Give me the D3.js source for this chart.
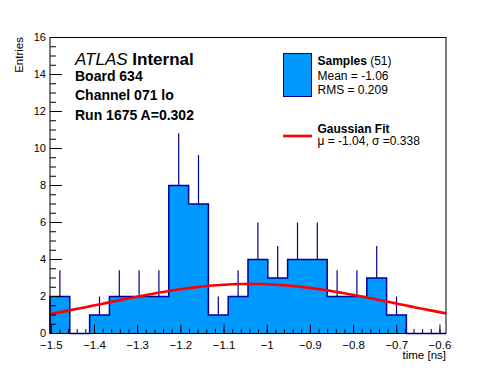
<!DOCTYPE html>
<html>
<head>
<meta charset="utf-8">
<script src="https://cdn.jsdelivr.net/npm/d3@7"></script>
<style>
  body { margin: 0; background: #fff; }
  svg { font-family: "Liberation Sans", Arial, sans-serif; }
</style>
</head>
<body>
<svg id="chart"></svg>
<script>
// histogram contents, 20 equal bins over the axis range
const binCounts = [2, 0, 1, 2, 2, 2, 8, 7, 1, 2, 4, 3, 4, 4, 2, 2, 3, 1, 0, 0];
const xRange = [-1.503, -0.586];
const yRange = [0, 16];
const xTickValues = [-1.5, -1.4, -1.3, -1.2, -1.1, -1, -0.9, -0.8, -0.7, -0.6];
const yTickValues = [0, 2, 4, 6, 8, 10, 12, 14, 16];

// gaussian fit parameters
const fitConst = 2.68;
const fitMean = -1.04;
const fitSigma = 0.338;

const infoLines = ["Board 634", "Channel 071 lo", "Run 1675 A=0.302"];

const W = 496, H = 372;
const margin = { top: 37.5, right: 50, bottom: 38.5, left: 50 };
const width = W - margin.left - margin.right;
const height = H - margin.top - margin.bottom;

const fillBlue = "#0099ff";
const lineBlue = "#000099";

const svg = d3.select("#chart").attr("width", W).attr("height", H);
const g = svg.append("g").attr("transform", `translate(${margin.left},${margin.top})`);

const x = d3.scaleLinear().domain(xRange).range([0, width]);
const y = d3.scaleLinear().domain(yRange).range([height, 0]);

const binW = (xRange[1] - xRange[0]) / binCounts.length;
const bins = binCounts.map((c, i) => ({ lo: xRange[0] + i * binW, hi: xRange[0] + (i + 1) * binW, c: c }));

// error bars (upper part, lower part hidden behind the fill)
g.selectAll(".err").data(bins.filter(d => d.c > 0)).enter().append("line")
    .attr("x1", d => x((d.lo + d.hi) / 2))
    .attr("x2", d => x((d.lo + d.hi) / 2))
    .attr("y1", d => y(d.c))
    .attr("y2", d => y(d.c + Math.sqrt(d.c)))
    .attr("stroke", lineBlue)
    .attr("stroke-width", 1.2);

// filled histogram
const area = d3.area()
    .x(d => x(d[0]))
    .y0(y(0))
    .y1(d => y(d[1]))
    .curve(d3.curveStepAfter);
const stepPts = bins.map(d => [d.lo, d.c]).concat([[xRange[1], 0]]);
g.append("path").attr("d", area(stepPts)).attr("fill", fillBlue);

// outline
const outline = [[xRange[0], 0]];
bins.forEach(d => { outline.push([d.lo, d.c]); outline.push([d.hi, d.c]); });
outline.push([xRange[1], 0]);
g.append("path")
    .attr("d", d3.line().x(d => x(d[0])).y(d => y(d[1]))(outline))
    .attr("fill", "none")
    .attr("stroke", lineBlue)
    .attr("stroke-width", 1.5);

// fit curve
const fitPts = d3.range(0, 101).map(i => {
    const xv = xRange[0] + (xRange[1] - xRange[0]) * i / 100;
    return [xv, fitConst * Math.exp(-0.5 * Math.pow((xv - fitMean) / fitSigma, 2))];
});
g.append("path")
    .attr("d", d3.line().x(d => x(d[0])).y(d => y(d[1]))(fitPts))
    .attr("fill", "none")
    .attr("stroke", "#ff0000")
    .attr("stroke-width", 2.6);

// frame
g.append("rect").attr("width", width).attr("height", height)
    .attr("fill", "none").attr("stroke", "#000").attr("stroke-width", 1);

// x ticks (inside the frame)
const fmt = v => (v < 0 ? "\u2212" : "") + d3.format("~g")(Math.abs(v));
const xMinor = d3.range(-1.5, -0.585, 0.02).map(v => +v.toFixed(3));
g.selectAll(".xminor").data(xMinor).enter().append("line")
    .attr("x1", d => x(d)).attr("x2", d => x(d))
    .attr("y1", height).attr("y2", height - 4.5)
    .attr("stroke", "#000");
g.selectAll(".xmajor").data(xTickValues).enter().append("line")
    .attr("x1", d => x(d)).attr("x2", d => x(d))
    .attr("y1", height).attr("y2", height - 9)
    .attr("stroke", "#000");
g.selectAll(".xlab").data(xTickValues).enter().append("text")
    .attr("x", d => x(d)).attr("y", height + 15)
    .attr("text-anchor", "middle").attr("font-size", 11.5)
    .text(fmt);

// y ticks
const yMinor = d3.range(0, 16.01, 0.5);
g.selectAll(".yminor").data(yMinor).enter().append("line")
    .attr("x1", 0).attr("x2", 6)
    .attr("y1", d => y(d)).attr("y2", d => y(d))
    .attr("stroke", "#000");
g.selectAll(".ymajor").data(yTickValues).enter().append("line")
    .attr("x1", 0).attr("x2", 12)
    .attr("y1", d => y(d)).attr("y2", d => y(d))
    .attr("stroke", "#000");
g.selectAll(".ylab").data(yTickValues).enter().append("text")
    .attr("x", -4).attr("y", d => y(d)).attr("dy", "0.34em")
    .attr("text-anchor", "end").attr("font-size", 11)
    .text(d => d);

// axis titles
svg.append("text").attr("x", margin.left + width).attr("y", 359)
    .attr("text-anchor", "end").attr("font-size", 11.5).text("time [ns]");
svg.append("text").attr("transform", "translate(23,37) rotate(-90)")
    .attr("text-anchor", "end").attr("font-size", 11.5).text("Entries");

// ATLAS label block
const atl = svg.append("text").attr("x", 75).attr("y", 65).attr("font-size", 17);
atl.append("tspan").attr("font-style", "italic").text("ATLAS");
atl.append("tspan").attr("font-weight", "bold").text(" Internal");
svg.selectAll(".info").data(infoLines).enter().append("text")
    .attr("x", 75).attr("y", (d, i) => 81 + i * 19.3)
    .attr("font-size", 14).attr("font-weight", "bold")
    .text(d => d);

// legend
svg.append("rect").attr("x", 283.5).attr("y", 53.5).attr("width", 28).attr("height", 43)
    .attr("fill", fillBlue).attr("stroke", lineBlue).attr("stroke-width", 1);
const s1 = svg.append("text").attr("x", 317.5).attr("y", 65).attr("font-size", 12);
s1.append("tspan").attr("font-weight", "bold").text("Samples");
s1.append("tspan").text(" (51)");
svg.append("text").attr("x", 317.5).attr("y", 80).attr("font-size", 12).text("Mean = -1.06");
svg.append("text").attr("x", 317.5).attr("y", 93.5).attr("font-size", 12).text("RMS = 0.209");

svg.append("line").attr("x1", 283).attr("x2", 312).attr("y1", 136).attr("y2", 136)
    .attr("stroke", "#ff0000").attr("stroke-width", 2.6);
svg.append("text").attr("x", 317.5).attr("y", 132.5).attr("font-size", 12)
    .attr("font-weight", "bold").text("Gaussian Fit");
svg.append("text").attr("x", 317.5).attr("y", 145).attr("font-size", 12)
    .text("\u03bc = -1.04, \u03c3 =0.338");
</script>
</body>
</html>
